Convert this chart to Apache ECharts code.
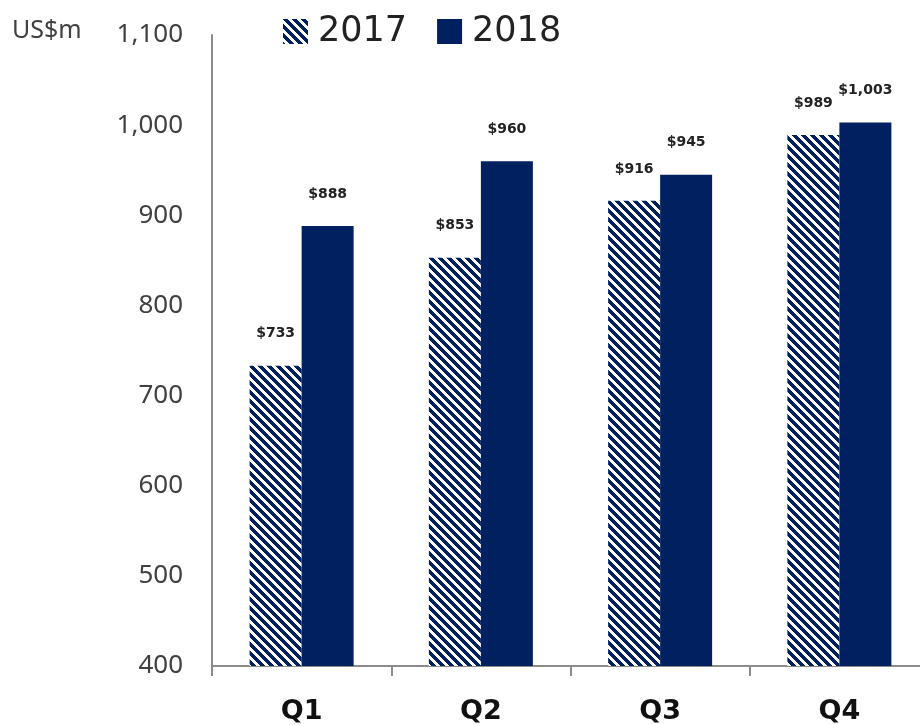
<!DOCTYPE html>
<html>
<head>
<meta charset="utf-8">
<script src="https://cdn.jsdelivr.net/npm/echarts@6/dist/echarts.min.js"></script>
<style>
  html, body { margin: 0; padding: 0; background: #fff; overflow: hidden; }
  #chart { width: 920px; height: 725px; }
</style>
</head>
<body>
<div id="chart"></div>
<script>
// Quarterly revenue, US$m
const quarters = ['Q1', 'Q2', 'Q3', 'Q4'];
const revenue2017 = [733, 853, 916, 989];
const revenue2018 = [888, 960, 945, 1003];
const seriesNames = ['2017', '2018'];

const NAVY = '#002060';

// Diagonal hatch fill for the 2017 bars
function makeHatch() {
  const size = 9;
  const c = document.createElement('canvas');
  c.width = size; c.height = size;
  const ctx = c.getContext('2d');
  const img = ctx.createImageData(size, size);
  for (let y = 0; y < size; y++) {
    for (let x = 0; x < size; x++) {
      const i = (y * size + x) * 4;
      const on = ((x - y) % size + size) % size < 5;
      img.data[i] = on ? 0x00 : 0xff;
      img.data[i + 1] = on ? 0x20 : 0xff;
      img.data[i + 2] = on ? 0x60 : 0xff;
      img.data[i + 3] = 255;
    }
  }
  ctx.putImageData(img, 0, 0);
  return { image: c, repeat: 'repeat' };
}

const fmt = v => '$' + v.toLocaleString('en-US');

const chart = echarts.init(document.getElementById('chart'), null, { renderer: 'canvas' });

const labelStyle = {
  show: true,
  position: 'top',
  distance: 25,
  fontFamily: 'DejaVu Sans',
  fontSize: 14,
  fontWeight: 'bold',
  color: '#222',
  formatter: p => fmt(p.value)
};

chart.setOption({
  animation: false,
  textStyle: { fontFamily: 'Noto Sans' },
  legend: {
    top: 14,
    left: 283,
    padding: 0,
    itemWidth: 25,
    itemHeight: 25,
    itemGap: 30,
    icon: 'rect',
    textStyle: { fontSize: 35, color: '#222', fontFamily: 'DejaVu Sans', padding: [0, 0, 0, 5] },
    data: seriesNames
  },
  graphic: [{
    type: 'text',
    left: 12,
    top: 18,
    style: { text: 'US$m', fontSize: 25, fill: '#404040', fontFamily: 'Noto Sans' }
  }],
  grid: { left: 212, width: 717, top: 35, bottom: 59, outerBoundsMode: 'none' },
  xAxis: {
    type: 'category',
    data: quarters,
    axisLine: { lineStyle: { color: '#8c8c8c', width: 2 } },
    axisTick: { show: true, length: 10, lineStyle: { color: '#8c8c8c', width: 2 } },
    axisLabel: { fontSize: 27, fontWeight: 'bold', color: '#111', margin: 32, fontFamily: 'DejaVu Sans' }
  },
  yAxis: {
    type: 'value',
    min: 400,
    max: 1100,
    interval: 100,
    splitLine: { show: false },
    axisLine: { show: true, lineStyle: { color: '#8c8c8c', width: 2 } },
    axisTick: { show: false },
    axisLabel: {
      fontSize: 26,
      color: '#404040',
      margin: 29,
      fontFamily: 'Noto Sans',
      formatter: v => v.toLocaleString('en-US')
    }
  },
  series: [
    {
      name: seriesNames[0],
      type: 'bar',
      data: revenue2017,
      barWidth: 52,
      barGap: '0%',
      itemStyle: { color: makeHatch() },
      label: labelStyle
    },
    {
      name: seriesNames[1],
      type: 'bar',
      data: revenue2018,
      barWidth: 52,
      barGap: '0%',
      itemStyle: { color: NAVY },
      label: labelStyle
    }
  ]
});
</script>
</body>
</html>
